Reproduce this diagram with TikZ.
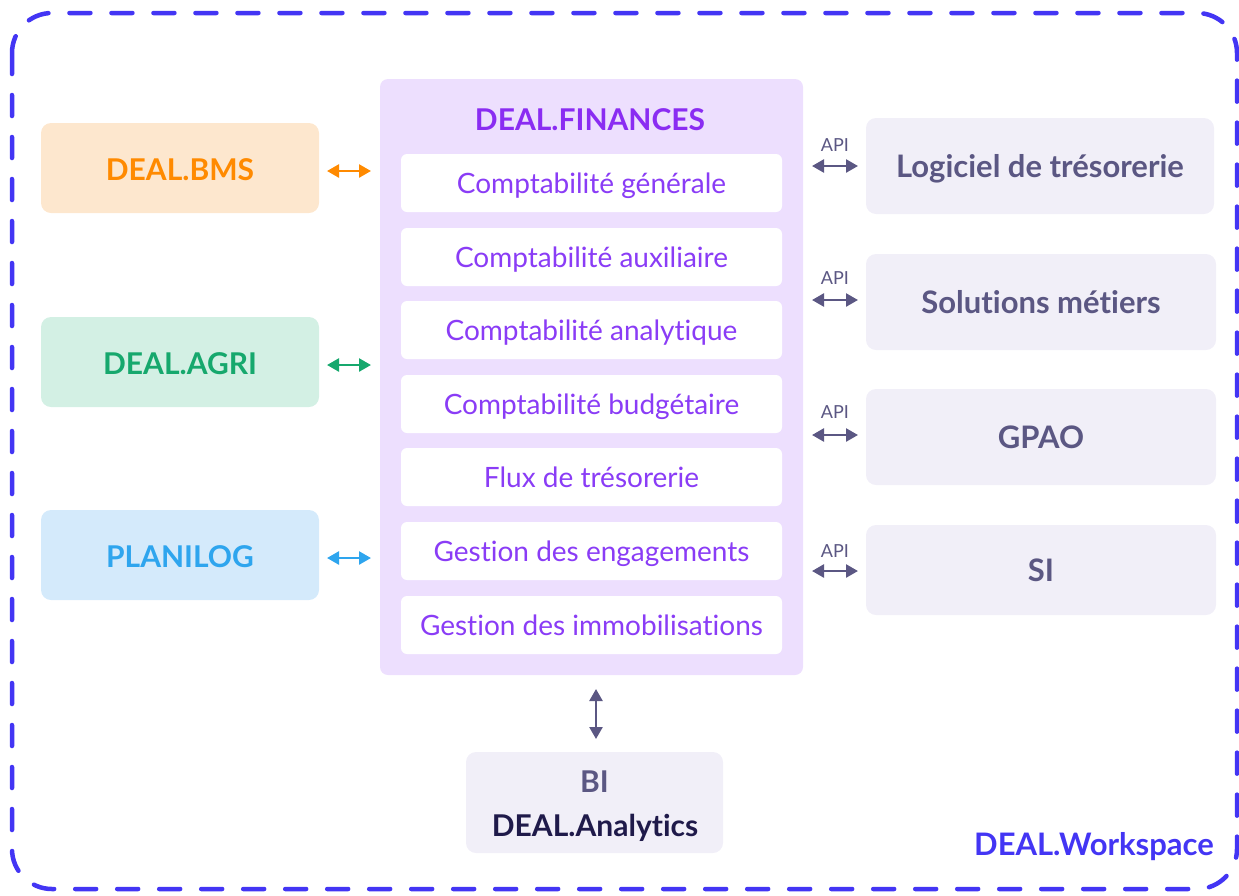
\documentclass[tikz,border=0pt]{standalone}
\usepackage{fontspec}
\setmainfont{Lato}[RawFeature={-liga;-clig;-dlig}]
\usetikzlibrary{arrows.meta}
\definecolor{wsblue}{HTML}{4335F4}
\definecolor{bmsfill}{HTML}{FDE7CE}
\definecolor{bmstext}{HTML}{FF8A00}
\definecolor{agrifill}{HTML}{D3F0E4}
\definecolor{agritext}{HTML}{16A86D}
\definecolor{planfill}{HTML}{D4EAFB}
\definecolor{plantext}{HTML}{2EA5EE}
\definecolor{finfill}{HTML}{EDDFFE}
\definecolor{fintitle}{HTML}{8A2CF2}
\definecolor{fintext}{HTML}{8A3CF6}
\definecolor{extfill}{HTML}{F1EFF8}
\definecolor{exttext}{HTML}{5B5783}
\definecolor{navy}{HTML}{1F1A4A}
\tikzset{
  capc/.style={text height=#1, text depth=0pt},
  side/.style={rounded corners=10pt, minimum width=278pt, minimum height=90pt, inner sep=0pt, capc=21.6pt,
    font=\fontsize{30}{32}\selectfont\bfseries},
  module/.style={fill=white, rounded corners=6pt, minimum width=381pt, minimum height=58pt, inner sep=0pt, capc=20.2pt,
    text=fintext, font=\fontsize{28}{30}\selectfont},
  ext/.style={fill=extfill, rounded corners=10pt, minimum width=350pt, minimum height=96pt, inner sep=0pt, capc=22.3pt,
    text=exttext, font=\fontsize{31}{33}\selectfont\bfseries},
  apilbl/.style={text=exttext, font=\fontsize{18}{20}\selectfont, inner sep=0pt, capc=13pt},
  biarrow/.style={line width=3pt, {Triangle[length=12pt,width=13pt]}-{Triangle[length=12pt,width=13pt]}},
}
\begin{document}
\begin{tikzpicture}[x=1pt,y=-1pt]
\useasboundingbox (0,0) rectangle (1239,895);
% workspace border
\draw[wsblue, line width=4.5pt, line cap=round, dash pattern=on 21pt off 21pt, rounded corners=40pt]
  (12,13) rectangle (1237,889);
\node[anchor=east, text=wsblue, font=\fontsize{31}{33}\selectfont\bfseries, inner sep=0pt, capc=22.3pt] (ws) at (1214,844) {DEAL.Workspace};

% left boxes
\node[side, fill=bmsfill, text=bmstext] (bms) at (180,168) {\raisebox{-2pt}{DEAL.BMS}};
\node[side, fill=agrifill, text=agritext] (agri) at (180,362) {\raisebox{-2pt}{DEAL.AGRI}};
\node[side, fill=planfill, text=plantext] (plan) at (180,555) {\raisebox{-2pt}{PLANILOG}};

% finances container
\node[fill=finfill, rounded corners=8pt, minimum width=423pt, minimum height=596pt, inner sep=0pt] (fin) at (591.5,377) {};
\node[text=fintitle, font=\fontsize{30}{32}\selectfont\bfseries, inner sep=0pt, capc=21.6pt] (fintitle) at (590,120) {DEAL.FINANCES};
\node[module] (m1) at (591.5,183) {Comptabilité générale};
\node[module] (m2) at (591.5,257) {Comptabilité auxiliaire};
\node[module] (m3) at (591.5,330) {Comptabilité analytique};
\node[module] (m4) at (591.5,404) {Comptabilité budgétaire};
\node[module] (m5) at (591.5,477) {Flux de trésorerie};
\node[module] (m6) at (591.5,551) {Gestion des engagements};
\node[module] (m7) at (591.5,625) {Gestion des immobilisations};

% left arrows
\coordinate (lb1) at (327,171); \coordinate (lb2) at (371,171);
\coordinate (la1) at (327,365); \coordinate (la2) at (371,365);
\coordinate (lp1) at (327,558); \coordinate (lp2) at (371,558);
\draw[biarrow, line width=2.5pt, bmstext] (lb1) -- (lb2);
\draw[biarrow, line width=2.5pt, agritext] (la1) -- (la2);
\draw[biarrow, line width=2.5pt, plantext] (lp1) -- (lp2);

% right boxes
\node[ext, minimum width=348pt] (tres) at (1040,166) {Logiciel de trésorerie};
\node[ext] (sol) at (1041,302) {Solutions métiers};
\node[ext] (gpao) at (1041,437) {GPAO};
\node[ext, minimum height=90pt] (si) at (1041,570) {SI};

% right arrows
\foreach \y/\n in {166/a, 300/b, 435/c, 571/d}{
  \coordinate (r\n1) at (812,\y); \coordinate (r\n2) at (858,\y);
  \draw[biarrow, line width=2.5pt, exttext] (r\n1) -- (r\n2);
}
\node[apilbl] (api1) at (835,145) {API};
\node[apilbl] (api2) at (835,278) {API};
\node[apilbl] (api3) at (835,412) {API};
\node[apilbl] (api4) at (835,551) {API};

% BI
\node[fill=extfill, rounded corners=10pt, minimum width=257pt, minimum height=101pt, inner sep=0pt] (bi) at (594.5,802.5) {};
\node[text=exttext, font=\fontsize{30}{32}\selectfont\bfseries, inner sep=0pt, capc=21.6pt] (bit) at (594.5,782) {BI};
\node[text=navy, font=\fontsize{30}{32}\selectfont\bfseries, inner sep=0pt, capc=21.6pt] (bia) at (595,826) {DEAL.Analytics};
\coordinate (v1) at (596,689); \coordinate (v2) at (596,739);
\draw[biarrow, line width=2.5pt, exttext] (v1) -- (v2);
\end{tikzpicture}
\end{document}
